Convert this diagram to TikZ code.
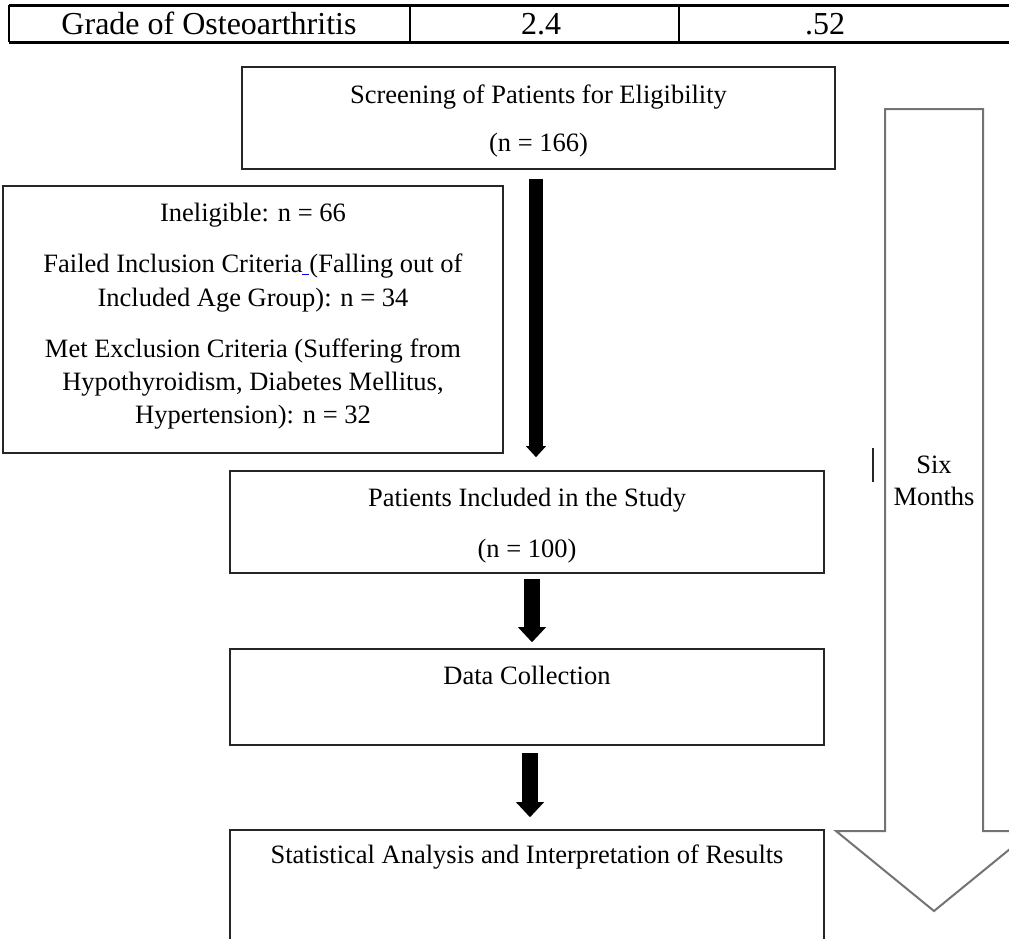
\documentclass[tikz,border=0pt]{standalone}
\usepackage{fontspec}
\setmainfont{Liberation Serif}
\usetikzlibrary{arrows.meta}
\begin{document}
\begin{tikzpicture}[x=1pt,y=-1pt,
  box/.style={draw=black!85, line width=1.6pt, inner sep=0pt, rectangle},
  t/.style={font=\fontsize{26.5}{30}\selectfont, inner sep=0pt, anchor=base},
  tt/.style={font=\fontsize{32}{36}\selectfont, inner sep=0pt, anchor=base},
  tabline/.style={draw=black, line width=3pt},
  tabsep/.style={draw=black, line width=2pt},
  fatA/.style={line width=14pt, -{Triangle[width=20pt,length=11pt,line width=0pt]}},
  fatB/.style={line width=16pt, -{Triangle[width=28pt,length=15pt,line width=0pt]}},
  hollow/.style={draw=black!55, line width=2pt, line join=miter}
]
\useasboundingbox (0,0) rectangle (1009,938);
\clip (0,0) rectangle (1009,938);

% table row
\draw[tabline] (9,5) -- (1009,5);
\draw[tabline] (9,42) -- (1009,42);
\draw[tabsep] (9,5) -- (9,42);
\draw[tabsep] (410,5) -- (410,42);
\draw[tabsep] (679,5) -- (679,42);
\node[tt] (c1) at (209,34) {Grade of Osteoarthritis};
\node[tt] (c2) at (541,34) {2.4};
\node[tt] (c3) at (825,34) {.52};

% big hollow arrow
\draw[hollow] (885,109) -- (983,109) -- (983,831) -- (1032,831) -- (934,911)
  -- (836,831) -- (885,831) -- cycle;
\node[t] (six) at (934,473) {Six};
\node[t] (months) at (934,505) {Months};
\draw[black!85, line width=2pt] (873,448) -- (873,482);

% boxes
\node[box, minimum width=593pt, minimum height=102pt] (screen) at (538.5,118) {};
\node[box, minimum width=500pt, minimum height=267pt] (inel) at (253,319.5) {};
\node[box, minimum width=594pt, minimum height=102pt] (incl) at (527,522) {};
\node[box, minimum width=594pt, minimum height=96pt] (data) at (527,697) {};
\node[box, minimum width=594pt, minimum height=170pt] (stat) at (527,915) {};

% texts
\node[t] (s1) at (538.5,103) {Screening of Patients for Eligibility};
\node[t] (s2) at (538.5,151) {(n = 166)};

\node[t] (e1) at (253,221) {Ineligible: n = 66};
\node[t] (e2) at (253,272) {Failed Inclusion Criteria\textcolor{blue}{\rule[-3pt]{7pt}{1.2pt}}(Falling out of};
\node[t] (e3) at (253,306) {Included Age Group): n = 34};
\node[t] (e4) at (253,357) {Met Exclusion Criteria (Suffering from};
\node[t] (e5) at (253,390) {Hypothyroidism, Diabetes Mellitus,};
\node[t] (e6) at (253,423) {Hypertension): n = 32};

\node[t] (i1) at (527,506) {Patients Included in the Study};
\node[t] (i2) at (527,557) {(n = 100)};

\node[t] (d1) at (527,684) {Data Collection};
\node[t] (a1) at (527,863) {Statistical Analysis and Interpretation of Results};

% connectors
\coordinate (xa) at (536,0);
\coordinate (xb) at (532,0);
\coordinate (xc) at (530,0);
\draw[fatA, shorten <=9pt, shorten >=13pt] (screen.south -| xa) -- (incl.north -| xa);
\draw[fatB, shorten <=5pt, shorten >=6pt] (incl.south -| xb) -- (data.north -| xb);
\draw[fatB, shorten <=7pt, shorten >=12pt] (data.south -| xc) -- (stat.north -| xc);
\end{tikzpicture}
\end{document}
